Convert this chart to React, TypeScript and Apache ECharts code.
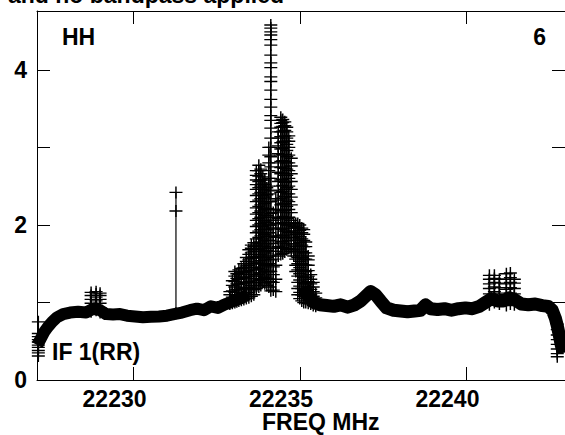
import React, { useEffect, useRef } from 'react';
import * as echarts from 'echarts';

const FONT = '"Liberation Sans", Arial, Helvetica, sans-serif';

const TITLE = 'and no bandpass applied';
const LABEL_POL = 'HH';
const LABEL_NUM = '6';
const LABEL_IF = 'IF 1(RR)';
const X_NAME = 'FREQ MHz';

const xTicks = [22230, 22235, 22240];
const yTicks = [0, 1, 2, 3, 4];
const yLabels = [0, 2, 4];

// baseline (before the line)
const baseFreqsA = [
  22227.11, 22227.196, 22227.316, 22227.436, 22227.556, 22227.706, 22227.886, 22228.095,
  22228.335, 22228.575, 22228.785, 22228.995, 22229.175, 22229.385, 22229.595, 22229.805,
  22230.045, 22230.284, 22230.524, 22230.764, 22231.004, 22231.214, 22231.454, 22231.694,
  22231.904, 22232.113, 22232.323, 22232.533, 22232.713, 22232.893, 22233.073, 22233.253,
  22233.433,
];
const baseValsA = [
  0.45, 0.52, 0.62, 0.69, 0.75, 0.81, 0.85, 0.87,
  0.88, 0.87, 0.92, 0.9, 0.85, 0.845, 0.85, 0.83,
  0.82, 0.81, 0.815, 0.82, 0.83, 0.85, 0.87, 0.9,
  0.92, 0.9, 0.95, 0.93, 0.97, 1.0, 1.03, 1.06,
  1.1,
];
// baseline (after the line)
const baseFreqsB = [
  22235.112, 22235.262, 22235.412, 22235.592, 22235.802, 22236.012, 22236.221, 22236.431,
  22236.641, 22236.821, 22236.971, 22237.121, 22237.271, 22237.421, 22237.601, 22237.811,
  22238.021, 22238.23, 22238.44, 22238.62, 22238.77, 22238.92, 22239.13, 22239.34,
  22239.55, 22239.76, 22239.97, 22240.179, 22240.389, 22240.569, 22240.749, 22240.929,
  22241.109, 22241.289, 22241.469, 22241.649, 22241.859, 22242.069, 22242.278, 22242.458,
  22242.578, 22242.668, 22242.728, 22242.788, 22242.848, 22242.908,
];
const baseValsB = [
  1.2, 1.08, 1.0, 0.97, 0.96, 0.95, 0.97, 0.94,
  0.97, 1.02, 1.08, 1.14, 1.1, 1.02, 0.93, 0.9,
  0.89, 0.88, 0.89, 0.9, 0.97, 0.92, 0.91, 0.92,
  0.9, 0.92, 0.93, 0.92, 0.95, 1.0, 1.05, 1.02,
  1.02, 1.06, 1.03, 0.98, 0.97, 0.98, 0.96, 0.95,
  0.9, 0.8, 0.7, 0.58, 0.45, 0.35,
];

// columns of channel values (stacked "+" marks)
const ladderFreqs = [
  22227.14,
  22228.725, 22228.875, 22228.995,
  22231.274,
  22232.893, 22233.043, 22233.163, 22233.313, 22233.463, 22233.613, 22233.763, 22233.883,
  22234.003, 22234.123, 22234.273, 22234.423, 22234.543, 22234.663, 22234.813, 22234.933,
  22235.053, 22235.173, 22235.323, 22235.473,
  22232.968, 22233.103, 22233.238, 22233.388, 22233.538, 22233.688, 22233.823, 22233.943,
  22234.063, 22234.197, 22234.347, 22234.482, 22234.602, 22234.737, 22234.872, 22234.992,
  22235.112, 22235.247, 22235.397,
  22240.689, 22240.839, 22240.989, 22241.199, 22241.319, 22241.439,
  22242.728,
];
const ladderVals = [
  [0.75, 0.6, 0.56, 0.52, 0.49, 0.45, 0.42, 0.38, 0.35, 0.31],
  [0.88, 0.94, 0.99, 1.04, 1.09, 1.13],
  [0.9, 0.96, 1.02, 1.07, 1.11, 1.14],
  [0.87, 0.93, 0.99, 1.04, 1.09, 1.12],
  [0.86, 2.18, 2.42],
  [0.98, 1.04, 1.1, 1.14],
  [1.0, 1.06, 1.13, 1.2, 1.27, 1.34, 1.4],
  [1.02, 1.09, 1.16, 1.23, 1.3, 1.36, 1.42],
  [1.04, 1.11, 1.18, 1.25, 1.32, 1.39, 1.45, 1.5],
  [1.06, 1.13, 1.2, 1.27, 1.34, 1.41, 1.48, 1.55, 1.62, 1.68],
  [1.1, 1.17, 1.24, 1.31, 1.38, 1.45, 1.52, 1.59, 1.66, 1.72, 1.77],
  [1.2, 1.28, 1.36, 1.44, 1.52, 1.6, 1.68, 1.76, 1.84, 1.92, 2.0, 2.08, 2.16, 2.24, 2.32, 2.4, 2.48, 2.56, 2.63, 2.7, 2.77],
  [1.26, 1.34, 1.42, 1.5, 1.58, 1.66, 1.74, 1.82, 1.9, 1.98, 2.06, 2.14, 2.22, 2.3, 2.38, 2.46, 2.54, 2.62],
  [1.22, 1.31, 1.4, 1.49, 1.58, 1.67, 1.76, 1.85, 1.94, 2.03, 2.12, 2.21, 2.3, 2.39, 2.48],
  [1.15, 1.27, 1.4, 1.55, 1.7, 1.85, 2.0, 2.15, 2.3, 2.45, 2.6, 2.75, 2.88, 3.0, 3.12, 3.25, 3.35, 3.41, 3.52, 3.62, 3.74, 3.85, 3.91, 4.03, 4.09, 4.19, 4.32, 4.39, 4.45, 4.49, 4.54, 4.58],
  [1.14, 1.3, 1.48, 1.66, 1.84, 2.02, 2.2, 2.34],
  [1.62, 1.7, 1.78, 1.86, 1.94, 2.02, 2.1, 2.18, 2.26, 2.34, 2.42, 2.5, 2.58, 2.66, 2.74, 2.82, 2.9, 2.98, 3.06, 3.14, 3.2, 3.26, 3.31, 3.35, 3.39],
  [1.65, 1.74, 1.83, 1.92, 2.01, 2.1, 2.19, 2.28, 2.37, 2.46, 2.55, 2.64, 2.73, 2.82, 2.91, 3.0, 3.08, 3.15, 3.22, 3.28, 3.33],
  [1.7, 1.8, 1.9, 2.0, 2.1, 2.2, 2.3, 2.4, 2.5, 2.6, 2.7, 2.8, 2.9, 3.0, 3.08, 3.15],
  [1.6, 1.68, 1.76, 1.84, 1.92, 1.98, 2.03],
  [1.1, 1.18, 1.26, 1.34, 1.42, 1.5, 1.58, 1.66, 1.74, 1.82, 1.9, 1.97, 2.02],
  [1.02, 1.1, 1.18, 1.26, 1.34, 1.42, 1.5, 1.58, 1.66, 1.74, 1.82, 1.9, 1.96],
  [1.0, 1.08, 1.16, 1.24, 1.32, 1.4, 1.48, 1.56, 1.64, 1.72, 1.78],
  [0.98, 1.04, 1.1, 1.17, 1.24, 1.3, 1.36],
  [0.95, 1.0, 1.06, 1.12],
  [0.99, 1.07, 1.15, 1.22, 1.28],
  [1.01, 1.09, 1.17, 1.24, 1.31, 1.37],
  [1.03, 1.1, 1.17, 1.24, 1.31, 1.38, 1.44],
  [1.05, 1.12, 1.19, 1.26, 1.33, 1.4, 1.47, 1.53, 1.58],
  [1.08, 1.15, 1.22, 1.29, 1.36, 1.43, 1.5, 1.57, 1.64, 1.7, 1.74],
  [1.18, 1.26, 1.34, 1.42, 1.5, 1.58, 1.66, 1.74, 1.82, 1.9, 1.98, 2.06, 2.14, 2.22, 2.3, 2.38, 2.46, 2.52, 2.58, 2.64, 2.7],
  [1.22, 1.3, 1.38, 1.46, 1.54, 1.62, 1.7, 1.78, 1.86, 1.94, 2.02, 2.1, 2.18, 2.26, 2.34, 2.42, 2.5, 2.58, 2.66, 2.72],
  [1.24, 1.32, 1.4, 1.48, 1.56, 1.64, 1.72, 1.8, 1.88, 1.96, 2.04, 2.12, 2.2, 2.28, 2.36, 2.44, 2.52, 2.58],
  [1.2, 1.3, 1.4, 1.5, 1.6, 1.7, 1.8, 1.9, 2.0, 2.1, 2.2, 2.3, 2.4, 2.5, 2.6, 2.7, 2.8, 2.9, 3.0],
  [1.16, 1.26, 1.36, 1.46, 1.56, 1.66, 1.76, 1.86, 1.96, 2.06, 2.16],
  [1.6, 1.72, 1.84, 1.96, 2.08, 2.2, 2.32, 2.44, 2.56, 2.68, 2.8, 2.92, 3.02, 3.12, 3.2],
  [1.63, 1.71, 1.79, 1.87, 1.95, 2.03, 2.11, 2.19, 2.27, 2.35, 2.43, 2.51, 2.59, 2.67, 2.75, 2.83, 2.91, 2.99, 3.07, 3.14, 3.21, 3.27, 3.32, 3.36],
  [1.68, 1.76, 1.84, 1.92, 2.0, 2.08, 2.16, 2.24, 2.32, 2.4, 2.48, 2.56, 2.64, 2.72, 2.8, 2.88, 2.96, 3.04, 3.12, 3.2, 3.26],
  [1.66, 1.76, 1.86, 1.96, 2.06, 2.16, 2.26, 2.36, 2.46, 2.56, 2.66, 2.76, 2.86],
  [1.4, 1.48, 1.56, 1.64, 1.72, 1.8, 1.88, 1.96, 2.02],
  [1.05, 1.13, 1.21, 1.29, 1.37, 1.45, 1.53, 1.61, 1.69, 1.77, 1.85, 1.93, 2.0],
  [1.0, 1.08, 1.16, 1.24, 1.32, 1.4, 1.48, 1.56, 1.64, 1.72, 1.8, 1.88, 1.94],
  [0.99, 1.06, 1.13, 1.2, 1.27, 1.34, 1.41, 1.48, 1.55, 1.6],
  [0.96, 1.02, 1.08, 1.14, 1.2, 1.26],
  [0.97, 1.04, 1.11, 1.18, 1.24, 1.3, 1.35],
  [1.0, 1.07, 1.14, 1.2, 1.26, 1.31, 1.35],
  [0.98, 1.05, 1.12, 1.19, 1.25, 1.3],
  [0.96, 1.03, 1.1, 1.17, 1.24, 1.3, 1.37],
  [0.98, 1.05, 1.12, 1.19, 1.26, 1.32, 1.38],
  [0.97, 1.04, 1.11, 1.18, 1.25, 1.3],
  [0.72, 0.65, 0.58, 0.52, 0.46, 0.4, 0.34, 0.3],
];

const X_MIN = 22227.1;
const X_MAX = 22242.96;
const Y_MIN = 0;
const Y_MAX = 4.76;

const CROSS = 'path://M0,6L13,6M6.5,0L6.5,12';

export default function App() {
  const ref = useRef<HTMLDivElement>(null);
  useEffect(() => {
    if (!ref.current) return;
    const chart = echarts.init(ref.current, null, { renderer: 'svg' });
    const txt = { fontFamily: FONT, fontSize: 23, fontWeight: 'bold' as const, color: '#000' };
    const axisCommon = {
      type: 'value' as const,
      splitLine: { show: false },
      axisLine: { show: true, onZero: false, lineStyle: { color: '#000', width: 1 } },
    };
    const series: any[] = [
      {
        type: 'line',
        data: baseFreqsA.map((f, i) => [f, baseValsA[i]]),
        symbol: 'none',
        lineStyle: { color: '#000', width: 12, join: 'round', cap: 'butt' },
        silent: true,
        z: 2,
      },
      {
        type: 'line',
        data: baseFreqsB.map((f, i) => [f, baseValsB[i]]),
        symbol: 'none',
        lineStyle: { color: '#000', width: 13, join: 'round', cap: 'butt' },
        silent: true,
        z: 2,
      },
    ];
    ladderFreqs.forEach((f, k) => {
      series.push({
        type: 'line',
        data: ladderVals[k].map((v) => [f, v]),
        symbol: CROSS,
        symbolSize: [13, 12],
        showSymbol: true,
        showAllSymbol: true,
        itemStyle: { color: 'transparent', borderColor: '#000', borderWidth: 1.4 },
        lineStyle: { color: '#000', width: 1.2 },
        silent: true,
        z: 3,
      });
    });
    chart.setOption({
      animation: false,
      backgroundColor: '#fff',
      grid: { left: 37, top: 11, width: 529, bottom: 55, containLabel: false },
      xAxis: [
        {
          ...axisCommon,
          position: 'bottom',
          min: X_MIN,
          max: X_MAX,
          axisTick: { show: true, inside: true, length: 13, customValues: xTicks, lineStyle: { color: '#000' } },
          axisLabel: {
            ...txt,
            customValues: xTicks,
            margin: 10,
            lineHeight: 17,
            padding: [0, 38, 0, 0],
            formatter: (v: number) => String(v),
          },
        },
        {
          ...axisCommon,
          position: 'top',
          min: X_MIN,
          max: X_MAX,
          axisTick: { show: true, inside: true, length: 13, customValues: xTicks, lineStyle: { color: '#000' } },
          axisLabel: { show: false },
        },
      ],
      yAxis: [
        {
          ...axisCommon,
          position: 'left',
          min: Y_MIN,
          max: Y_MAX,
          axisTick: { show: true, inside: true, length: 13, customValues: yTicks, lineStyle: { color: '#000' } },
          axisLabel: { ...txt, customValues: yLabels, margin: 10, formatter: (v: number) => String(v) },
        },
        {
          ...axisCommon,
          position: 'right',
          min: Y_MIN,
          max: Y_MAX,
          axisTick: { show: true, inside: true, length: 13, customValues: yTicks, lineStyle: { color: '#000' } },
          axisLabel: { show: false },
        },
      ],
      graphic: [
        { type: 'text', x: 8, y: -17, style: { text: TITLE, font: `bold 23px ${FONT}`, fill: '#000', verticalAlign: 'top' } },
        { type: 'text', x: 62, y: 25, style: { text: LABEL_POL, font: `bold 23px ${FONT}`, fill: '#000', verticalAlign: 'top' } },
        { type: 'text', x: 546, y: 25, style: { text: LABEL_NUM, font: `bold 23px ${FONT}`, fill: '#000', align: 'right', verticalAlign: 'top' } },
        { type: 'text', x: 52, y: 340, style: { text: LABEL_IF, font: `bold 23px ${FONT}`, fill: '#000', verticalAlign: 'top' } },
        { type: 'text', x: 262, y: 413, style: { text: X_NAME, font: `bold 23px ${FONT}`, fill: '#000', lineHeight: 17, verticalAlign: 'top' } },
      ],
      series,
    });
    return () => chart.dispose();
  }, []);
  return <div ref={ref} style={{ width: 565, height: 435, position: 'absolute', left: 0, top: 0 }} />;
}
